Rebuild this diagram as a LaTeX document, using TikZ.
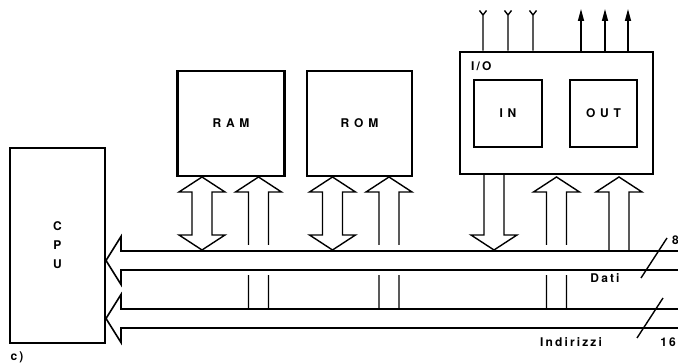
\documentclass[tikz,border=0pt]{standalone}
\usepackage{fontspec}
\newfontfamily\widefont[LetterSpace=40]{texgyreheros-bold.otf}
\newfontfamily\tagfont[LetterSpace=18]{texgyreheros-bold.otf}
\usetikzlibrary{arrows.meta}
\tikzset{
  block/.style={
    draw,
    line width=2.7pt,
    inner sep=0pt,
    font=\widefont\fontsize{12}{14}\selectfont
  },
  pipe/.style={
    line width=1.4pt,
    line join=miter
  },
  bus/.style={
    line width=1.6pt,
    line join=miter
  },
  wire/.style={
    line width=1.4pt
  },
  tag/.style={
    inner sep=0pt,
    font=\tagfont\fontsize{12}{14}\selectfont
  }
}
% hollow arrows: x, top, bottom
\newcommand{\twoway}[3]{%
  \draw[pipe] (#1-10,#2+15) -- (#1-23,#2+15) -- (#1,#2) -- (#1+23,#2+15) -- (#1+10,#2+15)
    -- (#1+10,#3-15) -- (#1+23,#3-15) -- (#1,#3) -- (#1-23,#3-15) -- (#1-10,#3-15) -- cycle;}
\newcommand{\upway}[3]{%
  \draw[pipe] (#1-10,#3) -- (#1-10,#2+15) -- (#1-23,#2+15) -- (#1,#2) -- (#1+23,#2+15)
    -- (#1+10,#2+15) -- (#1+10,#3);}
\newcommand{\downway}[3]{%
  \draw[pipe] (#1-10,#2) -- (#1-10,#3-15) -- (#1-23,#3-15) -- (#1,#3) -- (#1+23,#3-15)
    -- (#1+10,#3-15) -- (#1+10,#2);}
% up arrow from the address bus, cut where it passes the data bus
\newcommand{\upcross}[3]{%
  \upway{#1}{#2}{#3}
  \fill[white] (#1-13,245) rectangle (#1+13,275);}
% bus: top, bottom
\newcommand{\busway}[2]{%
  \draw[bus] (680,#1) -- (121,#1) -- (121,#1-14.5) -- (106,{(#1+#2)/2})
    -- (121,#2+14.5) -- (121,#2) -- (680,#2);}

\begin{document}
\begin{tikzpicture}[x=1pt,y=-1pt]
  \useasboundingbox (0,0) rectangle (678,363);

  \node[block, minimum width=95pt, minimum height=195pt, align=center,
        font=\widefont\fontsize{12}{19}\selectfont] (cpu) at (57.5,245.5) {C\\P\\U};
  \node[block, minimum width=107pt, minimum height=105pt] (ram) at (231,123.5) {RAM};
  \node[block, minimum width=105pt, minimum height=105pt] (rom) at (359.5,123.5) {ROM};
  \node[block, minimum width=193pt, minimum height=122pt] (io) at (556.5,113) {};
  \node[block, minimum width=68pt, minimum height=67pt] (in) at (508,113.5) {IN};
  \node[block, minimum width=67pt, minimum height=67pt] (out) at (603.5,113.5) {OUT};
  \node[tag, anchor=west] (iolabel) at (471,66) {I/O};

  \busway{309}{328}
  \upcross{258.5}{177}{309}
  \upcross{389}{177}{309}
  \upcross{556.5}{177}{309}
  \busway{251}{270}

  \twoway{202}{177}{250}
  \twoway{332.5}{177}{250}
  \downway{494}{174}{250}
  \upway{619}{177}{251}

  \foreach \n/\x in {1/483,2/508,3/533} {
    \coordinate (src\n) at (\x,15);
    \draw[wire] (io.north -| src\n) -- (src\n) -- +(-3.5,-4.5) (src\n) -- +(3.5,-4.5);
  }
  \foreach \n/\x in {1/581,2/605,3/628} {
    \coordinate (dst\n) at (\x,9);
    \draw[wire, -{Triangle[length=12pt,width=6pt]}] (io.north -| dst\n) -- (dst\n);
  }

  \draw[wire] (641,278) -- (667,238);
  \draw[wire] (637,338) -- (663,298);
  \node[tag, anchor=west] (dwidth) at (672,240) {8};
  \node[tag] (dati) at (605,278) {Dati};
  \node[tag] (addr) at (571,342) {Indirizzi};
  \node[tag] (awidth) at (668,342) {16};
  \node[tag] (fig) at (17,357) {c)};
\end{tikzpicture}
\end{document}
